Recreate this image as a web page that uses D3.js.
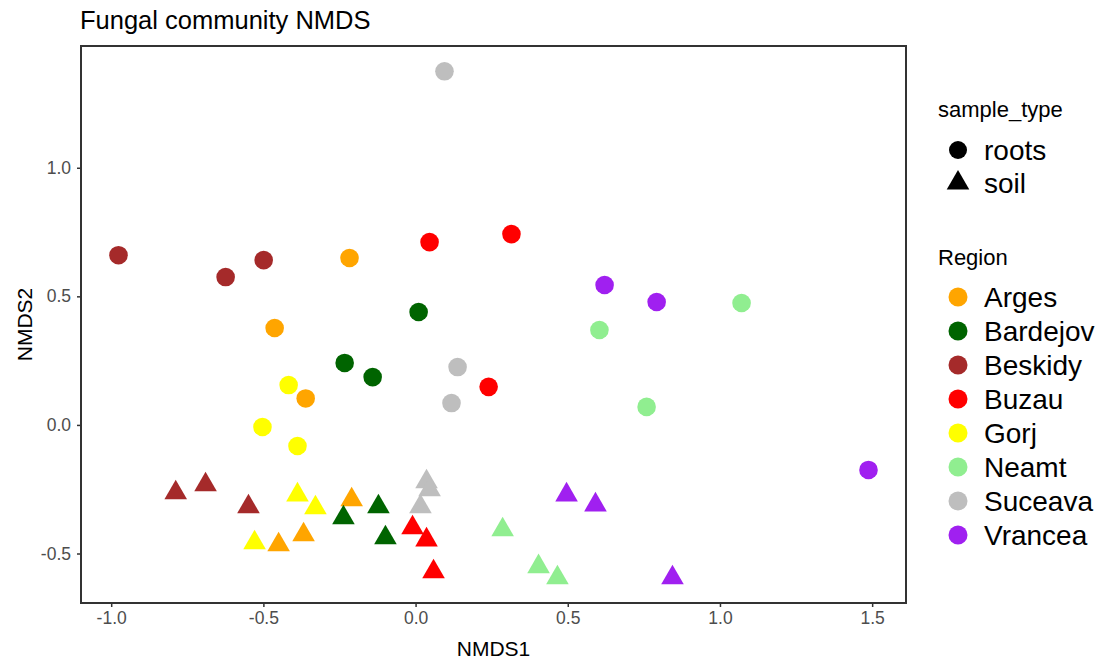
<!DOCTYPE html>
<html>
<head>
<meta charset="utf-8">
<script src="https://cdn.jsdelivr.net/npm/d3@7"></script>
<style>
  body { margin: 0; background: #fff; }
  text { font-family: "Liberation Sans", Arial, sans-serif; }
</style>
</head>
<body>
<div id="chart"></div>
<script>
// legend categories
var regions = ["Arges", "Bardejov", "Beskidy", "Buzau", "Gorj", "Neamt", "Suceava", "Vrancea"];
var regionColors = ["#FFA500", "#006400", "#A52A2A", "#FF0000", "#FFFF00", "#90EE90", "#BEBEBE", "#A020F0"];
var sampleTypes = ["roots", "soil"];

// ordination scores, one entry per sample
var pointRegion = [
  "Arges", "Arges", "Arges", "Arges", "Arges", "Arges",
  "Bardejov", "Bardejov", "Bardejov", "Bardejov", "Bardejov", "Bardejov",
  "Beskidy", "Beskidy", "Beskidy", "Beskidy", "Beskidy", "Beskidy",
  "Buzau", "Buzau", "Buzau", "Buzau", "Buzau", "Buzau",
  "Gorj", "Gorj", "Gorj", "Gorj", "Gorj", "Gorj",
  "Neamt", "Neamt", "Neamt", "Neamt", "Neamt", "Neamt",
  "Suceava", "Suceava", "Suceava", "Suceava", "Suceava", "Suceava",
  "Vrancea", "Vrancea", "Vrancea", "Vrancea", "Vrancea", "Vrancea"
];
var pointType = [];
regions.forEach(function() {
  pointType.push("roots", "roots", "roots", "soil", "soil", "soil");
});
var nmds1 = [
  -0.217, -0.463, -0.361, -0.210, -0.450, -0.368,
   0.010, -0.233, -0.141, -0.122, -0.237, -0.099,
  -0.976, -0.624, -0.499, -0.788, -0.690, -0.549,
   0.046,  0.315,  0.240, -0.010,  0.036,  0.059,
  -0.417, -0.503, -0.388, -0.388, -0.329, -0.529,
   0.604,  1.071,  0.759,  0.286,  0.404,  0.466,
   0.095,  0.138,  0.118,  0.036,  0.046,  0.016,
   0.621,  0.792,  1.488,  0.496,  0.591,  0.844
];
var nmds2 = [
   0.649,  0.377,  0.103, -0.291, -0.466, -0.427,
   0.439,  0.241,  0.186, -0.318, -0.361, -0.439,
   0.660,  0.575,  0.641, -0.264, -0.233, -0.318,
   0.711,  0.742,  0.148, -0.400, -0.447, -0.571,
   0.155, -0.008, -0.082, -0.272, -0.322, -0.458,
   0.369,  0.474,  0.070, -0.408, -0.551, -0.594,
   1.375,  0.225,  0.085, -0.221, -0.252, -0.318,
   0.544,  0.478, -0.175, -0.272, -0.311, -0.594
];
var xTicks = [-1.0, -0.5, 0.0, 0.5, 1.0, 1.5];
var yTicks = [-0.5, 0.0, 0.5, 1.0];

var W = 1106, H = 661;
var panel = { left: 81, right: 906, top: 46, bottom: 603 };

var data = nmds1.map(function(v, i) {
  return { x: v, y: nmds2[i], region: pointRegion[i], type: pointType[i] };
});

// ggplot style 5% expansion
function expand(ext) {
  var pad = (ext[1] - ext[0]) * 0.05;
  return [ext[0] - pad, ext[1] + pad];
}
// plain hyphen like R, not the unicode minus
function fmt(d) { return d.toFixed(1); }

var x = d3.scaleLinear()
  .domain(expand(d3.extent(nmds1)))
  .range([panel.left, panel.right]);
var y = d3.scaleLinear()
  .domain(expand(d3.extent(nmds2)))
  .range([panel.bottom, panel.top]);
var color = d3.scaleOrdinal().domain(regions).range(regionColors);

var svg = d3.select("#chart").append("svg")
  .attr("width", W)
  .attr("height", H);

svg.append("text")
  .attr("x", 80)
  .attr("y", 29)
  .style("font-size", "25.5px")
  .style("fill", "#000")
  .text("Fungal community NMDS");

// axes
var xAxis = svg.append("g")
  .attr("transform", "translate(0," + panel.bottom + ")")
  .call(d3.axisBottom(x).tickValues(xTicks).tickFormat(fmt).tickSize(4).tickPadding(5));
var yAxis = svg.append("g")
  .attr("transform", "translate(" + panel.left + ",0)")
  .call(d3.axisLeft(y).tickValues(yTicks).tickFormat(fmt).tickSize(4).tickPadding(6));

[xAxis, yAxis].forEach(function(ax) {
  ax.select(".domain").remove();
  ax.selectAll(".tick line").attr("stroke", "#333").attr("stroke-width", 1.5);
  ax.selectAll(".tick text")
    .style("font-size", "17.5px")
    .style("font-family", "'Liberation Sans', Arial, sans-serif")
    .attr("fill", "#4D4D4D");
});

svg.append("rect")
  .attr("x", panel.left)
  .attr("y", panel.top)
  .attr("width", panel.right - panel.left)
  .attr("height", panel.bottom - panel.top)
  .attr("fill", "none")
  .attr("stroke", "#333")
  .attr("stroke-width", 2);

svg.append("text")
  .attr("x", (panel.left + panel.right) / 2)
  .attr("y", 656)
  .attr("text-anchor", "middle")
  .style("font-size", "21px")
  .text("NMDS1");

svg.append("text")
  .attr("transform", "translate(32," + (panel.top + panel.bottom) / 2 + ") rotate(-90)")
  .attr("text-anchor", "middle")
  .style("font-size", "21px")
  .text("NMDS2");

// points
var tri = d3.symbol().type(d3.symbolTriangle).size(221);

svg.append("g").selectAll("path")
  .data(data.filter(function(d) { return d.type === "soil"; }))
  .enter().append("path")
  .attr("d", tri)
  .attr("transform", function(d) { return "translate(" + x(d.x) + "," + y(d.y) + ")"; })
  .attr("fill", function(d) { return color(d.region); });

svg.append("g").selectAll("circle")
  .data(data.filter(function(d) { return d.type === "roots"; }))
  .enter().append("circle")
  .attr("cx", function(d) { return x(d.x); })
  .attr("cy", function(d) { return y(d.y); })
  .attr("r", 9.3)
  .attr("fill", function(d) { return color(d.region); });

// legends
var lg = svg.append("g");
lg.append("text").attr("x", 938).attr("y", 117).style("font-size", "22px").text("sample_type");

sampleTypes.forEach(function(t, i) {
  var cy = 150 + i * 33;
  if (t === "roots") {
    lg.append("circle").attr("cx", 958).attr("cy", cy).attr("r", 9).attr("fill", "#000");
  } else {
    lg.append("path").attr("d", tri).attr("transform", "translate(958," + cy + ")").attr("fill", "#000");
  }
  lg.append("text").attr("x", 984).attr("y", cy + 10).style("font-size", "28px").text(t);
});

lg.append("text").attr("x", 938).attr("y", 265).style("font-size", "22px").text("Region");

regions.forEach(function(r, i) {
  var cy = 297 + i * 34;
  lg.append("circle").attr("cx", 958).attr("cy", cy).attr("r", 9.5).attr("fill", color(r));
  lg.append("text").attr("x", 984).attr("y", cy + 10).style("font-size", "28px").text(r);
});
</script>
</body>
</html>
